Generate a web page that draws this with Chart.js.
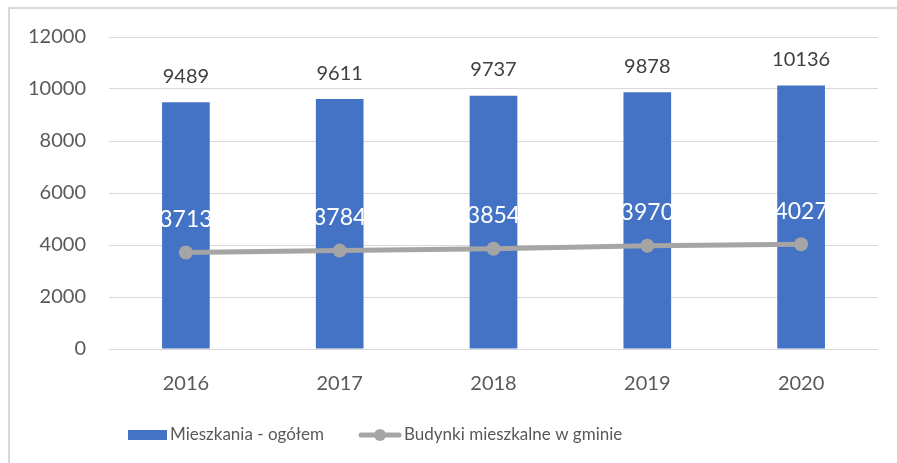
<!DOCTYPE html>
<html>
<head>
<meta charset="utf-8">
<script src="https://cdn.jsdelivr.net/npm/chart.js@4.4.1/dist/chart.umd.min.js"></script>
<style>
  html, body { margin: 0; padding: 0; background: #fff; }
  #wrap { position: relative; width: 897px; height: 463px; overflow: hidden; }
  #frame { position: absolute; left: 8px; top: 7px; right: -10px; bottom: -10px;
           border-left: 2px solid #d9d9d9; border-top: 2px solid #d9d9d9; }
  canvas { position: absolute; left: 0; top: 0; }
</style>
</head>
<body>
<div id="wrap">
  <div id="frame"></div>
  <canvas id="chart" width="897" height="463"></canvas>
</div>
<script>
  // dane
  const years = ['2016', '2017', '2018', '2019', '2020'];
  const flats = [9489, 9611, 9737, 9878, 10136];
  const buildings = [3713, 3784, 3854, 3970, 4027];
  const flatsLabel = 'Mieszkania - ogółem';
  const buildingsLabel = 'Budynki mieszkalne w gminie';
  const yMin = 0, yMax = 12000, yStep = 2000;

  const FONT = 'Lato, "Liberation Sans", sans-serif';
  const BLUE = '#4472c4';
  const GREY = '#a5a5a5';
  const TEXT = '#595959';

  // etykiety wartości nad słupkami i punktami
  const valueLabels = {
    id: 'valueLabels',
    afterDatasetsDraw(chart) {
      const ctx = chart.ctx;
      ctx.save();
      ctx.textAlign = 'center';
      ctx.textBaseline = 'middle';
      chart.data.datasets.forEach((ds, di) => {
        const meta = chart.getDatasetMeta(di);
        meta.data.forEach((el, i) => {
          if (ds.type === 'bar') {
            ctx.font = '20px ' + FONT;
            ctx.fillStyle = '#404040';
            ctx.fillText(String(ds.data[i]), el.x, el.y - 26);
          } else {
            ctx.font = '23px ' + FONT;
            ctx.fillStyle = '#ffffff';
            ctx.fillText(String(ds.data[i]), el.x, el.y - 33);
          }
        });
      });
      ctx.restore();
    },
  };

  // legenda rysowana ręcznie (przesunięta w lewo jak w oryginale)
  const customLegend = {
    id: 'customLegend',
    afterDraw(chart) {
      const ctx = chart.ctx;
      const ds = chart.data.datasets;
      const cy = 435;
      ctx.save();
      ctx.font = '17px ' + FONT;
      ctx.textBaseline = 'middle';
      ctx.textAlign = 'left';

      // słupki
      let x = 128;
      ctx.fillStyle = ds[0].backgroundColor;
      ctx.fillRect(x, cy - 5, 39, 10);
      x += 42;
      ctx.fillStyle = TEXT;
      ctx.fillText(ds[0].label, x, cy);
      x += ctx.measureText(ds[0].label).width + 35;

      // linia
      ctx.strokeStyle = ds[1].borderColor;
      ctx.lineWidth = 5;
      ctx.lineCap = 'round';
      ctx.beginPath();
      ctx.moveTo(x + 2, cy);
      ctx.lineTo(x + 40, cy);
      ctx.stroke();
      ctx.fillStyle = ds[1].borderColor;
      ctx.beginPath();
      ctx.arc(x + 21, cy, 6, 0, Math.PI * 2);
      ctx.fill();
      x += 45;
      ctx.fillStyle = TEXT;
      ctx.fillText(ds[1].label, x, cy);
      ctx.restore();
    },
  };

  new Chart(document.getElementById('chart'), {
    data: {
      labels: years,
      datasets: [
        {
          type: 'bar',
          label: flatsLabel,
          data: flats,
          backgroundColor: BLUE,
          borderWidth: 0,
          barPercentage: 0.31,
          categoryPercentage: 1,
          order: 2,
        },
        {
          type: 'line',
          label: buildingsLabel,
          data: buildings,
          borderColor: GREY,
          backgroundColor: GREY,
          borderWidth: 5,
          pointRadius: 7,
          pointBackgroundColor: GREY,
          pointBorderWidth: 0,
          tension: 0,
          order: 1,
        },
      ],
    },
    options: {
      responsive: false,
      animation: false,
      devicePixelRatio: 1,
      layout: { padding: { top: 37, right: 19, bottom: 50, left: 0 } },
      plugins: {
        legend: { display: false },
        tooltip: { enabled: false },
      },
      scales: {
        x: {
          grid: { display: false },
          border: { display: false },
          ticks: { color: TEXT, font: { family: FONT, size: 20 }, padding: 15 },
          afterFit: (s) => { s.height = 64; },
        },
        y: {
          min: yMin,
          max: yMax,
          grid: { color: '#d9d9d9', lineWidth: 1, drawTicks: false },
          border: { display: false },
          ticks: {
            stepSize: yStep, color: TEXT, font: { family: FONT, size: 20 }, padding: 23,
            callback: (v) => String(v),
          },
          afterFit: (s) => { s.width = 109; },
        },
      },
    },
    plugins: [valueLabels, customLegend],
  });
</script>
</body>
</html>
